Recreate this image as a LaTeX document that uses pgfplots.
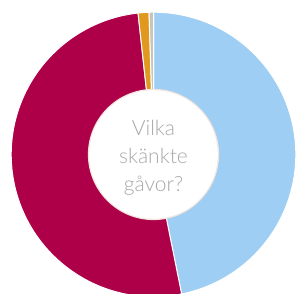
\documentclass[border=0pt]{standalone}
\usepackage{pgfplots}
\usepackage{pgfplotstable}
\pgfplotsset{compat=1.18}
\usepackage{fontspec}
\setmainfont{Lato}[UprightFont=* Light]
\definecolor{sBlue}{RGB}{158,206,243}
\definecolor{sCrimson}{RGB}{174,0,72}
\definecolor{sOrange}{RGB}{224,152,31}
\definecolor{sGray}{RGB}{200,196,186}
\definecolor{txtGray}{RGB}{168,168,168}
\definecolor{ringC}{RGB}{242,228,222}
\pgfplotstableread{
label val
Blue 46.8
Crimson 51.4
Orange 1.23
Gray 0.5
}\slices
\pgfplotstablegetelem{0}{val}\of\slices \let\vA\pgfplotsretval
\pgfplotstablegetelem{1}{val}\of\slices \let\vB\pgfplotsretval
\pgfplotstablegetelem{2}{val}\of\slices \let\vC\pgfplotsretval
\pgfplotstablegetelem{3}{val}\of\slices \let\vD\pgfplotsretval
\pgfmathsetmacro\tot{\vA+\vB+\vC+\vD}
\pgfmathsetmacro\aA{90}
\pgfmathsetmacro\aB{\aA-360*(\vA/\tot)}
\pgfmathsetmacro\aC{\aB-360*(\vB/\tot)}
\pgfmathsetmacro\aD{\aC-360*(\vC/\tot)}
\pgfmathsetmacro\aE{\aD-360*(\vD/\tot)}
\begin{document}%
\begin{tikzpicture}
\begin{axis}[name=ax, axis lines=none, ticks=none, x=1pt, y=1pt, enlargelimits=false,
  xmin=0, xmax=297, ymin=0, ymax=294, clip=true]
\addplot[draw=none] coordinates {(0,0) (297,294)};
\fill[sBlue, draw=white, line width=1pt] (axis cs:153.5,139.5) -- ++(\aA:142.3pt) arc[start angle=\aA, end angle=\aB, radius=142.3pt] -- cycle;
\fill[sCrimson, draw=white, line width=1pt] (axis cs:153.5,139.5) -- ++(\aB:142.3pt) arc[start angle=\aB, end angle=\aC, radius=142.3pt] -- cycle;
\fill[sOrange, draw=white, line width=1pt] (axis cs:153.5,139.5) -- ++(\aC:142.3pt) arc[start angle=\aC, end angle=\aD, radius=142.3pt] -- cycle;
\fill[sGray, draw=white, line width=1pt] (axis cs:153.5,139.5) -- ++(\aD:142.3pt) arc[start angle=\aD, end angle=\aE, radius=142.3pt] -- cycle;
\fill[ringC] (axis cs:153.5,139.5) circle[radius=65.6pt];
\fill[white] (axis cs:153.5,139.5) circle[radius=64.3pt];
\node[align=center, text=txtGray, font=\fontsize{21}{28}\selectfont] at (axis cs:153.5,136.5) {Vilka\\skänkte\\gåvor?};
\coordinate (bl) at (axis cs:0,0);
\coordinate (tr) at (axis cs:297,294);
\end{axis}
\pgfresetboundingbox
\path (bl) rectangle (tr);
\end{tikzpicture}%
\end{document}
